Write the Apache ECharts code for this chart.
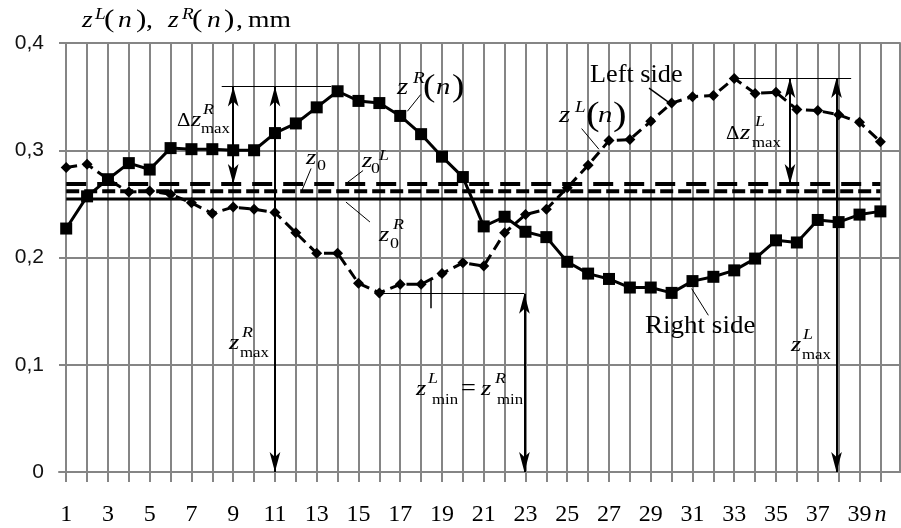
<!DOCTYPE html>
<html><head><meta charset="utf-8">
<script src="https://cdn.jsdelivr.net/npm/echarts@6/dist/echarts.min.js"></script>
<style>html,body{margin:0;padding:0;background:#fff}#c{width:901px;height:528px}</style>
</head><body><div id="c"></div>
<script>
// ---- data ----
const nValues = [1,2,3,4,5,6,7,8,9,10,11,12,13,14,15,16,17,18,19,20,21,22,23,24,25,26,27,28,29,30,31,32,33,34,35,36,37,38,39,40];
const rightSide = [0.227,0.257,0.273,0.288,0.282,0.302,0.301,0.301,0.300,0.300,0.316,0.325,0.340,0.355,0.346,0.344,0.332,0.315,0.294,0.275,0.229,0.238,0.224,0.219,0.196,0.185,0.180,0.172,0.172,0.167,0.178,0.182,0.188,0.199,0.216,0.214,0.235,0.233,0.240,0.243];
const leftSide = [0.284,0.287,0.273,0.261,0.262,0.259,0.251,0.241,0.247,0.245,0.242,0.223,0.204,0.204,0.176,0.167,0.175,0.175,0.185,0.195,0.192,0.223,0.240,0.245,0.265,0.286,0.309,0.310,0.327,0.344,0.350,0.351,0.367,0.353,0.354,0.338,0.337,0.333,0.326,0.308];
const z0L = 0.2686;
const z0 = 0.2617;
const z0R = 0.2546;
const xTickValues = nValues;
const xLabelValues = [1,3,5,7,9,11,13,15,17,19,21,23,25,27,29,31,33,35,37,39,40];
const yTickValues = [0,0.1,0.2,0.3,0.4];

const GRAY = '#858585';
const SERIF = '"Liberation Serif","Times New Roman",serif';

// ---- annotation helpers ----
function T(x, base, text, size, italic, sx) {
  return {
    type: 'text', x: x, y: base - 0.3 * size, scaleX: sx == null ? 1.2 : sx, z: 100,
    style: { text: text, font: (italic ? 'italic ' : '') + size + 'px ' + SERIF, fill: '#000', align: 'left', verticalAlign: 'middle' }
  };
}
const texts = [
  // title
  T(82, 28, 'z', 23, true), T(95, 20, 'L', 16, true), T(104, 28, '(', 26, false), T(118, 28, 'n', 23, true), T(136, 28, ')', 26, false), T(146, 28, ',', 23, false),
  T(168, 28, 'z', 23, true), T(182, 20, 'R', 16, true), T(192, 28, '(', 26, false), T(207, 28, 'n', 23, true), T(224, 28, ')', 26, false), T(236, 28, ',', 23, false),
  T(248, 28, 'mm', 23, false),
  // Δz^R_max
  T(177, 127, '\u0394', 19, false, 1.1), T(191, 127, 'z', 22, true), T(203, 115, 'R', 15, true), T(201, 134, 'max', 14, false),
  // z^R_max
  T(229, 350, 'z', 22, true), T(242, 338, 'R', 15, true), T(240, 358, 'max', 14, false),
  // z0
  T(306, 165, 'z', 22, true), T(317, 171, '0', 15, false),
  // z0^L
  T(362, 168, 'z', 22, true), T(379, 161, 'L', 15, true), T(371, 174, '0', 15, false),
  // z0^R
  T(379, 242, 'z', 22, true), T(393, 230, 'R', 15, true), T(390, 249, '0', 15, false),
  // z^R(n)
  T(397, 95, 'z', 24, true), T(413, 84, 'R', 16, true), T(423, 97, '(', 31, false), T(436, 95, 'n', 24, true), T(452, 97, ')', 31, false),
  // z^L(n)
  T(559, 123, 'z', 24, true), T(575, 113, 'L', 16, true), T(586, 126, '(', 34, false), T(598, 123, 'n', 24, true), T(613, 126, ')', 34, false),
  // labels
  T(590, 83, 'Left side', 25, false, 1.05),
  T(645, 334, 'Right side', 26, false, 1.04),
  // Δz^L_max
  T(726, 140, '\u0394', 19, false, 1.1), T(740, 140, 'z', 22, true), T(755, 127, 'L', 15, true), T(752, 148, 'max', 14, false),
  // z^L_max
  T(791, 352, 'z', 22, true), T(803, 340, 'L', 15, true), T(802, 360, 'max', 14, false),
  // z^L_min = z^R_min
  T(416, 396, 'z', 22, true), T(428, 384, 'L', 15, true), T(432, 405, 'min', 14, false),
  T(461, 396, '=', 24, false, 1.1),
  T(481, 396, 'z', 22, true), T(495, 384, 'R', 15, true), T(497, 405, 'min', 14, false)
];

function arrow(x, y1, y2) {
  return [{ coord: [x, y1], symbol: 'arrow', symbolSize: [8, 20], lineStyle: { width: 2, color: '#000', type: 'solid' } },
          { coord: [x, y2], symbol: 'arrow', symbolSize: [8, 20] }];
}
function seg(x1, y1, x2, y2, w) {
  return [{ coord: [x1, y1], symbol: 'none', lineStyle: { width: w || 1, color: '#000', type: 'solid' } },
          { coord: [x2, y2], symbol: 'none' }];
}

const annotationLines = [
  arrow(9, 0.3594, z0L),
  arrow(11, 0.3594, 0),
  arrow(22.95, 0.1663, 0),
  arrow(35.67, 0.3674, z0L),
  arrow(37.9, 0.3674, 0),
  seg(8.45, 0.3594, 13.7, 0.3594),
  seg(33.1, 0.3674, 38.6, 0.3674),
  seg(16.05, 0.1663, 22.95, 0.1663),
  seg(18.47, 0.1806, 18.47, 0.1526, 1.5),
  // leaders
  seg(17.98, 0.3519, 17.34, 0.3363),
  seg(28.92, 0.358, 29.88, 0.3444, 1.5),
  seg(25.69, 0.3202, 26.52, 0.3009),
  seg(30.96, 0.171, 31.76, 0.1461),
  seg(12.73, 0.283, 12.28, 0.262),
  seg(15.22, 0.2811, 14.44, 0.2695),
  seg(15.55, 0.2331, 14.40, 0.2517)
];

const chart = echarts.init(document.getElementById('c'), null, { renderer: 'canvas' });
const hline = (v) => [[nValues[0], v], [nValues[nValues.length - 1], v]];

chart.setOption({
  animation: false,
  backgroundColor: '#fff',
  grid: { left: 59, right: 1, top: 43, bottom: 56, containLabel: false, outerBoundsMode: 'none' },
  xAxis: {
    type: 'value', min: 0.655, max: 40.94,
    axisLine: { show: true, onZero: false, lineStyle: { color: GRAY, width: 2 } },
    axisTick: { show: true, length: 10, customValues: xTickValues, lineStyle: { color: GRAY, width: 2 } },
    axisLabel: {
      customValues: xLabelValues, margin: 31, color: '#000',
      fontFamily: SERIF, fontSize: 24,
      formatter: (v) => v === 40 ? '{i|n}' : String(v),
      rich: { i: { fontStyle: 'italic', fontFamily: SERIF, fontSize: 24, color: '#000' } }
    },
    splitLine: { show: true, lineStyle: { color: GRAY, width: 2 } }
  },
  yAxis: [{
    type: 'value', min: 0, max: 0.4, interval: 0.1, position: 'left',
    axisLine: { show: false }, axisTick: { show: false },
    axisLabel: { margin: 15, color: '#111', fontFamily: '"Liberation Sans",Arial,sans-serif', fontSize: 21,
      formatter: (v) => String(+v.toFixed(1)).replace('.', ',') },
    splitLine: { show: true, lineStyle: { color: GRAY, width: 2 } }
  }, {
    type: 'value', min: 0, max: 0.4, interval: 0.1, position: 'right',
    axisLine: { show: true, lineStyle: { color: GRAY, width: 2 } }, axisTick: { show: false },
    axisLabel: { show: false }, splitLine: { show: false }
  }],
  series: [
    { name: 'z0R', type: 'line', data: hline(z0R), symbol: 'none', silent: true,
      lineStyle: { color: '#000', width: 3, type: 'solid' } },
    { name: 'z0', type: 'line', data: hline(z0), symbol: 'none', silent: true,
      lineStyle: { color: '#000', width: 4, type: [13, 5] } },
    { name: 'z0L', type: 'line', data: hline(z0L), symbol: 'none', silent: true,
      lineStyle: { color: '#000', width: 4, type: [20, 11] } },
    { name: 'Left side', type: 'line', data: nValues.map((n, i) => [n, leftSide[i]]),
      symbol: 'diamond', symbolSize: 11, silent: true,
      itemStyle: { color: '#000' }, lineStyle: { color: '#000', width: 3, type: [11, 6] } },
    { name: 'Right side', type: 'line', data: nValues.map((n, i) => [n, rightSide[i]]),
      symbol: 'rect', symbolSize: 12, silent: true,
      itemStyle: { color: '#000' }, lineStyle: { color: '#000', width: 3, type: 'solid' },
      markLine: { silent: true, animation: false, symbol: 'none', label: { show: false },
        emphasis: { disabled: true },
        lineStyle: { color: '#000', width: 1, type: 'solid' }, data: annotationLines } }
  ],
  graphic: { elements: texts }
});
</script></body></html>
